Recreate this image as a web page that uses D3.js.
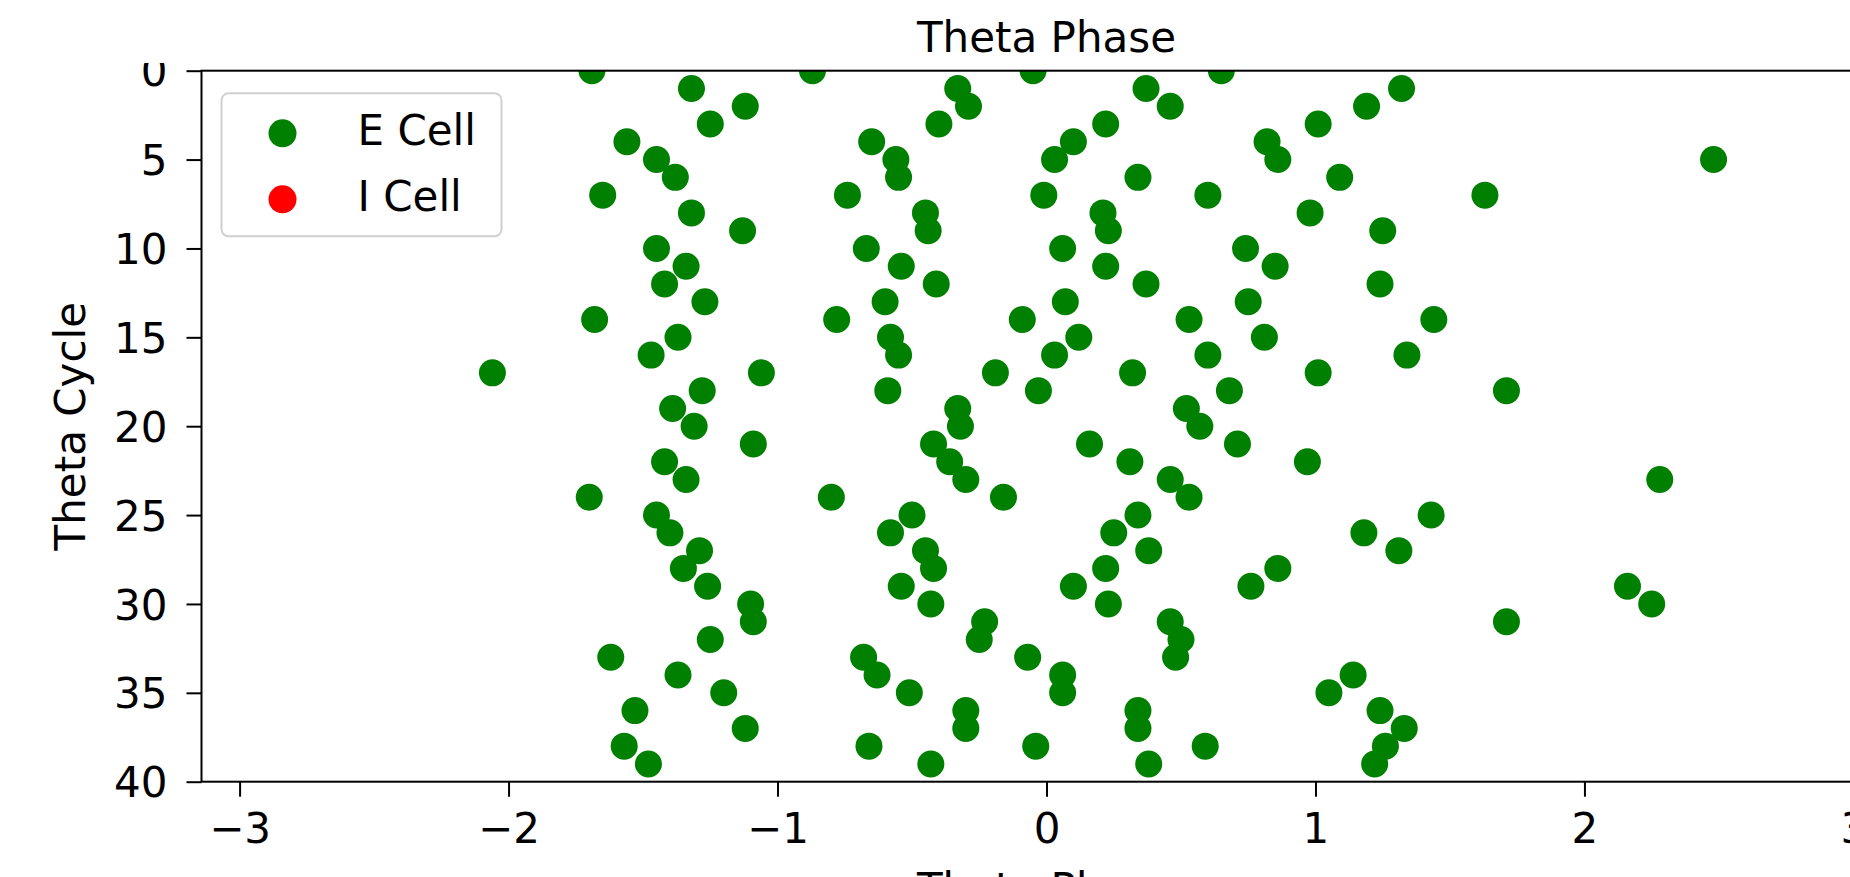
<!DOCTYPE html>
<html>
<head>
<meta charset="utf-8">
<script src="https://cdn.jsdelivr.net/npm/d3@7"></script>
<style>
  html, body { margin: 0; padding: 0; background: #fff; overflow: hidden; }
  text { font-family: 'DejaVu Sans', sans-serif; fill: #000; }
</style>
</head>
<body>
<div id="chart"></div>
<script>
// E cell spike phases, one list per theta cycle (cycle 0 .. 39)
const eCellPhases = [
    [-1.69, -0.87, -0.05, 0.65],
    [-1.32, -0.33, 0.37, 1.32],
    [-1.12, -0.29, 0.46, 1.19],
    [-1.25, -0.40, 0.22, 1.01],
    [-1.56, -0.65, 0.10, 0.82],
    [-1.45, -0.56, 0.03, 0.86, 2.48],
    [-1.38, -0.55, 0.34, 1.09],
    [-1.65, -0.74, -0.01, 0.60, 1.63],
    [-1.32, -0.45, 0.21, 0.98],
    [-1.13, -0.44, 0.23, 1.25],
    [-1.45, -0.67, 0.06, 0.74],
    [-1.34, -0.54, 0.22, 0.85],
    [-1.42, -0.41, 0.37, 1.24],
    [-1.27, -0.60, 0.07, 0.75],
    [-1.68, -0.78, -0.09, 0.53, 1.44],
    [-1.37, -0.58, 0.12, 0.81],
    [-1.47, -0.55, 0.03, 0.60, 1.34],
    [-2.06, -1.06, -0.19, 0.32, 1.01],
    [-1.28, -0.59, -0.03, 0.68, 1.71],
    [-1.39, -0.33, 0.52],
    [-1.31, -0.32, 0.57],
    [-1.09, -0.42, 0.16, 0.71],
    [-1.42, -0.36, 0.31, 0.97],
    [-1.34, -0.30, 0.46, 2.28],
    [-1.70, -0.80, -0.16, 0.53],
    [-1.45, -0.50, 0.34, 1.43],
    [-1.40, -0.58, 0.25, 1.18],
    [-1.29, -0.45, 0.38, 1.31],
    [-1.35, -0.42, 0.22, 0.86],
    [-1.26, -0.54, 0.10, 0.76, 2.16],
    [-1.10, -0.43, 0.23, 2.25],
    [-1.09, -0.23, 0.46, 1.71],
    [-1.25, -0.25, 0.50],
    [-1.62, -0.68, -0.07, 0.48],
    [-1.37, -0.63, 0.06, 1.14],
    [-1.20, -0.51, 0.06, 1.05],
    [-1.53, -0.30, 0.34, 1.24],
    [-1.12, -0.30, 0.34, 1.33],
    [-1.57, -0.66, -0.04, 0.59, 1.26],
    [-1.48, -0.43, 0.38, 1.22]
];

// I cell spikes (none in this run)
const iCellPhases = [];

const seriesNames = ['E Cell', 'I Cell'];
const seriesColors = ['green', 'red'];

const xTicks = [-3, -2, -1, 0, 1, 2, 3];
const yTicks = [0, 5, 10, 15, 20, 25, 30, 35, 40];

// Flatten into points
const toPoints = rows => rows.flatMap((row, cycle) => row.map(phase => ({ cycle, phase })));
const series = [toPoints(eCellPhases), toPoints(iCellPhases)];

// Layout (the axes run a bit past the right edge of the window)
const svgWidth = 1850;
const svgHeight = 877;
const margin = { top: 70.7, left: 201.5 };
const width = 1690;
const height = 711;
const fontSize = 42;

const svg = d3.select('#chart')
    .append('svg')
    .attr('width', svgWidth)
    .attr('height', svgHeight);

const g = svg.append('g')
    .attr('transform', `translate(${margin.left},${margin.top})`);

// Scales
const xScale = d3.scaleLinear().domain([-Math.PI, Math.PI]).range([0, width]);
const yScale = d3.scaleLinear().domain([0, 40]).range([0, height]);

// Clip for points
g.append('clipPath').attr('id', 'plot-clip')
    .append('rect').attr('width', width).attr('height', height);

// Points
const dots = g.append('g').attr('clip-path', 'url(#plot-clip)');
series.forEach((pts, i) => {
    dots.selectAll(null)
        .data(pts)
        .enter()
        .append('circle')
        .attr('cx', d => xScale(d.phase))
        .attr('cy', d => yScale(d.cycle))
        .attr('r', 13.5)
        .attr('fill', seriesColors[i]);
});

// Axes
const xAxis = g.append('g')
    .attr('transform', `translate(0,${height})`)
    .call(d3.axisBottom(xScale).tickValues(xTicks).tickFormat(d3.format('d')).tickSize(15).tickSizeOuter(0).tickPadding(16));

const yAxis = g.append('g')
    .call(d3.axisLeft(yScale).tickValues(yTicks).tickSize(15).tickSizeOuter(0).tickPadding(19));

[xAxis, yAxis].forEach(ax => {
    ax.select('.domain').remove();
    ax.selectAll('line').attr('stroke', '#000').attr('stroke-width', 2);
    ax.selectAll('text')
        .style('font-family', "'DejaVu Sans', sans-serif")
        .style('font-size', fontSize + 'px')
        .attr('fill', '#000');
});
yAxis.selectAll('text').attr('dy', '0.36em');

// Frame (spines)
g.append('rect')
    .attr('width', width)
    .attr('height', height)
    .attr('fill', 'none')
    .attr('stroke', '#000')
    .attr('stroke-width', 2);

// Legend
const legend = g.append('g').attr('transform', 'translate(20,22.6)');
legend.append('rect')
    .attr('width', 280)
    .attr('height', 143)
    .attr('rx', 7)
    .attr('fill', 'rgba(255,255,255,0.8)')
    .attr('stroke', '#d0d0d0')
    .attr('stroke-width', 2);

seriesNames.forEach((name, i) => {
    const row = legend.append('g').attr('transform', `translate(0,${40 + i * 66})`);
    row.append('circle')
        .attr('cx', 61)
        .attr('cy', 0)
        .attr('r', 14)
        .attr('fill', seriesColors[i]);
    row.append('text')
        .attr('x', 136)
        .attr('y', 12)
        .style('font-size', fontSize + 'px')
        .text(name);
});

// Top strip hides the upper part of the "0" label, as in the source image
svg.append('rect')
    .attr('x', 0).attr('y', 0)
    .attr('width', 200).attr('height', 63)
    .attr('fill', '#fff');

// Title
svg.append('text')
    .attr('x', margin.left + xScale(0))
    .attr('y', 51.7)
    .attr('text-anchor', 'middle')
    .style('font-size', fontSize + 'px')
    .text('Theta Phase');

// Axis labels
svg.append('text')
    .attr('x', margin.left + xScale(0))
    .attr('y', 903)
    .attr('text-anchor', 'middle')
    .style('font-size', fontSize + 'px')
    .text('Theta Phase');

svg.append('text')
    .attr('transform', 'rotate(-90)')
    .attr('x', -(margin.top + height / 2))
    .attr('y', 85)
    .attr('text-anchor', 'middle')
    .style('font-size', fontSize + 'px')
    .text('Theta Cycle');
</script>
</body>
</html>
